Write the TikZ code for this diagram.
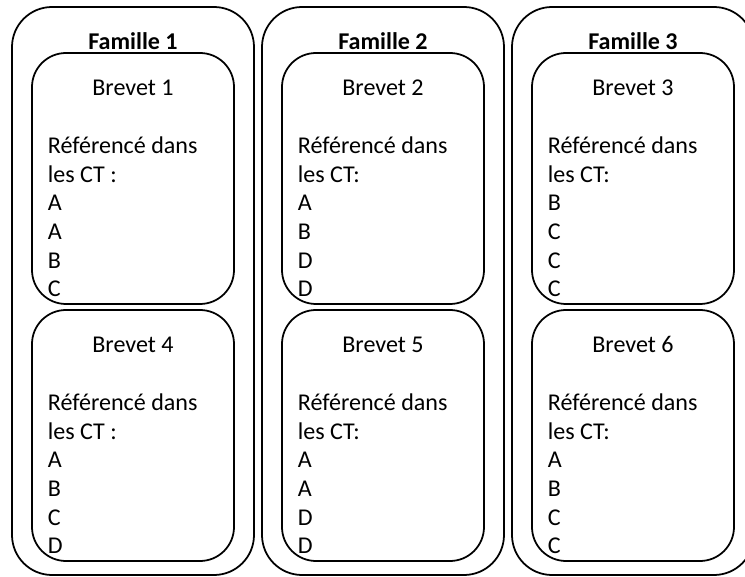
\documentclass[tikz,border=0pt]{standalone}
\usepackage{fontspec}
\setmainfont{Carlito}
\begin{document}
\begin{tikzpicture}[x=0.02cm,y=-0.02cm,line width=1pt,
  famille/.style={draw,rounded corners=0.8cm},
  brevetbox/.style={draw,rounded corners=0.68cm},
  texte/.style={font=\fontsize{13.7}{16}\selectfont,inner sep=0pt}]
\useasboundingbox (0,0) rectangle (745,577);
\clip (0,0) rectangle (745,577);
% familles
\foreach \f/\x in {1/12,2/262,3/512} {
  \draw[famille] (\x,7) rectangle ++(242,568);
  \node[texte,font=\fontsize{13.7}{16}\selectfont\bfseries,anchor=base] (fam\f) at (\x+121,50) {Famille \f};
}
% brevets
\foreach \b/\x/\y/\ct/\items in {1/12/53/{les CT :}/{A,A,B,C},
  2/262/53/{les CT:}/{A,B,D,D},
  3/512/53/{les CT:}/{B,C,C,C},
  4/12/310/{les CT :}/{A,B,C,D},
  5/262/310/{les CT:}/{A,A,D,D},
  6/512/310/{les CT:}/{A,B,C,C}} {
  \draw[brevetbox] (\x+20,\y) rectangle ++(202,251);
  \node[texte,anchor=base] (br\b) at (\x+121,\y+43) {Brevet \b};
  \node[texte,anchor=base west] (br\b-ref) at (\x+35,\y+100.4) {Référencé dans};
  \node[texte,anchor=base west] (br\b-ct) at (\x+35,\y+129.1) {\ct};
  \foreach \it [count=\k] in \items
    \node[texte,anchor=base west] (br\b-\k) at (\x+35,\y+129.1+28.7*\k) {\it};
}
\end{tikzpicture}
\end{document}
